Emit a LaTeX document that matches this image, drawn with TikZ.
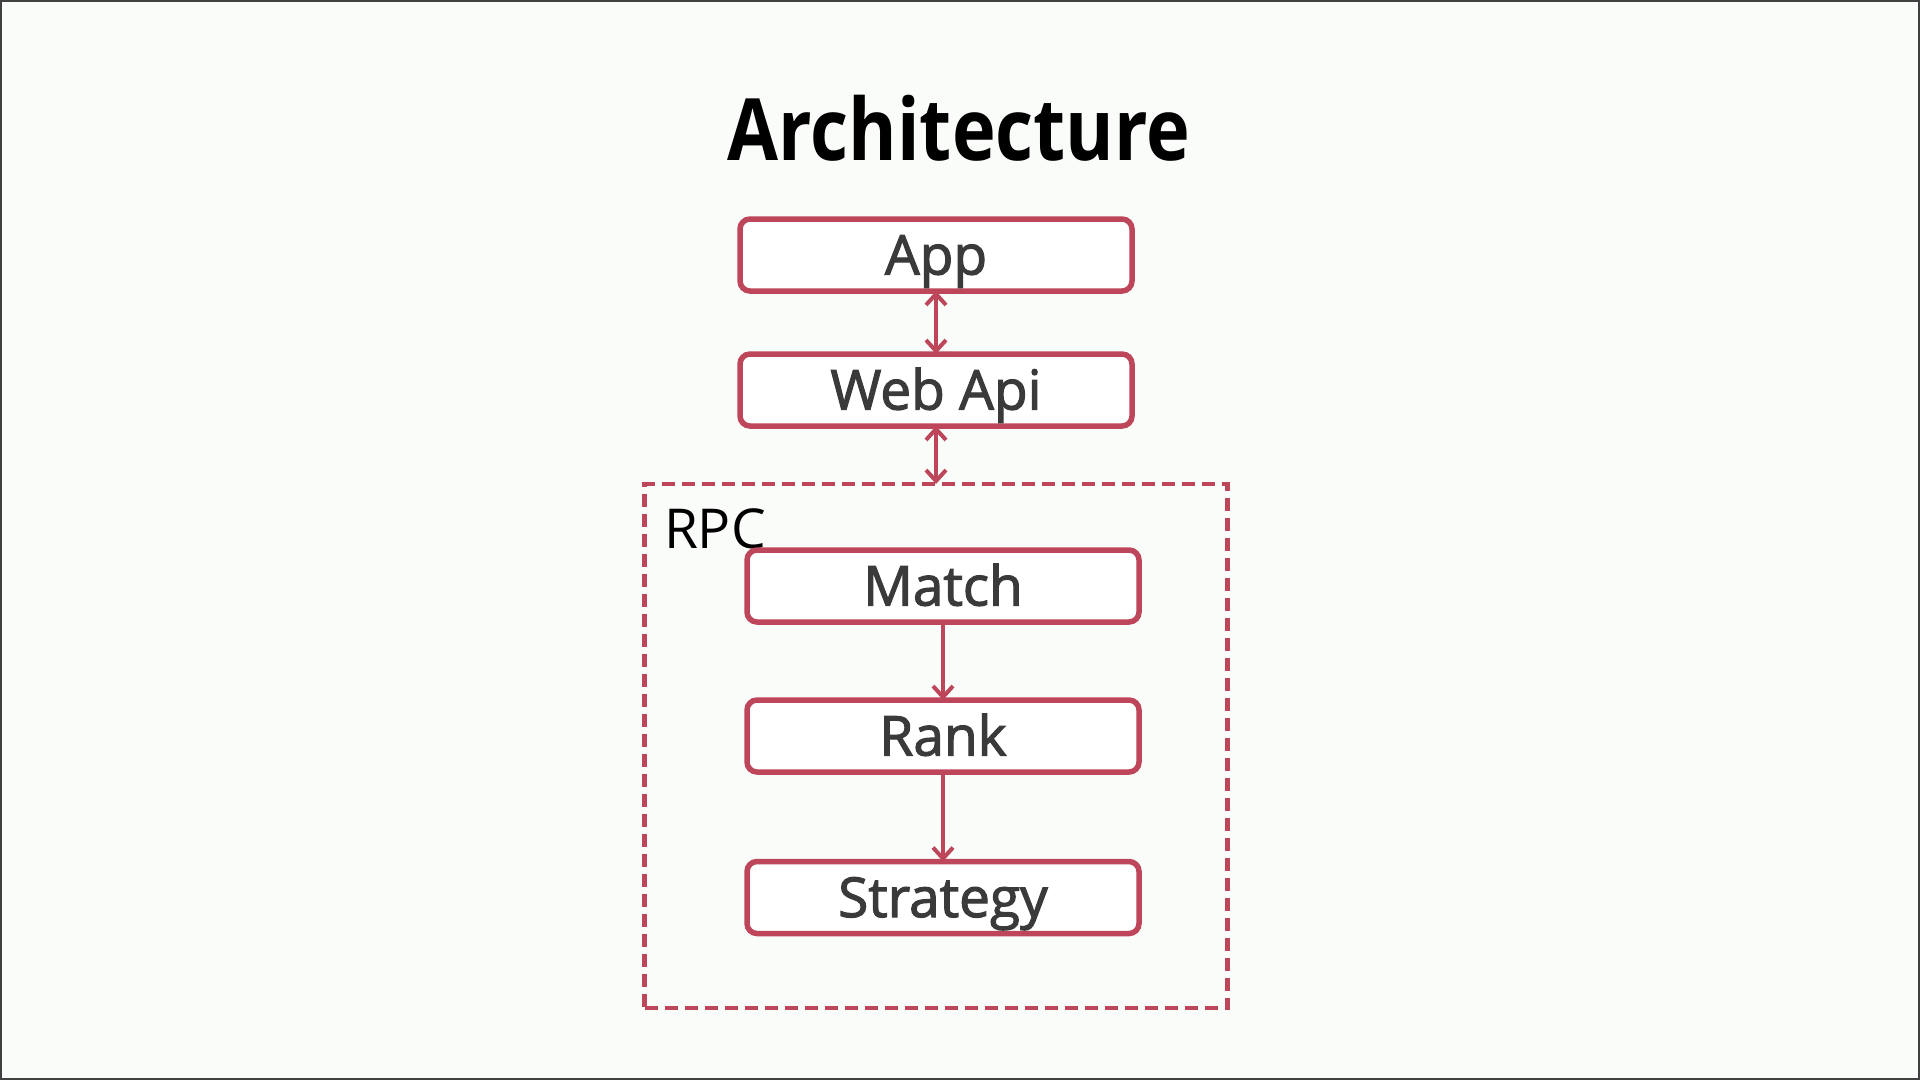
\documentclass[tikz,border=0pt]{standalone}
\usepackage{fontspec}
\usepackage{graphicx}
\setmainfont{Open Sans}
\usetikzlibrary{arrows.meta}
\definecolor{boxred}{RGB}{190,70,90}
\definecolor{bgc}{RGB}{250,252,250}
\definecolor{txt}{RGB}{58,58,58}
\tikzset{
  every node/.style={inner sep=0pt, outer sep=0pt},
  blk/.style={draw=boxred, line width=5.5pt, rounded corners=10pt, fill=white,
    minimum width=392pt, minimum height=72pt, text=txt,
    font=\fontsize{55pt}{60pt}\selectfont\addfontfeature{FakeBold=2}, text height=39pt, text depth=0pt},
  grp/.style={draw=boxred, line width=4.5pt, dash pattern=on 13pt off 7pt,
    minimum width=583pt, minimum height=524pt},
  conn/.style={draw=boxred, line width=4pt,
    -{Straight Barb[length=11pt,width=20pt,line width=4pt]}},
  dconn/.style={draw=boxred, line width=4pt,
    {Straight Barb[length=11pt,width=20pt,line width=4pt]}-{Straight Barb[length=11pt,width=20pt,line width=4pt]}}
}
\begin{document}
\begin{tikzpicture}[x=1pt,y=-1pt]
\useasboundingbox (0,0) rectangle (1920,1080);
\fill[bgc] (0,0) rectangle (1920,1080);
\draw[black!75, line width=2pt] (1,1) rectangle (1919,1079);
\node[anchor=base, font=\bfseries\fontsize{86pt}{90pt}\selectfont] (title) at (959,160) {\scalebox{0.86}[1]{Architecture}};
\node[grp] (rpc) at (936,746) {};
\node[anchor=base west, font=\fontsize{55pt}{60pt}\selectfont] (rpclabel) at (664,548) {RPC};
\node[blk] (app) at (936,255) {App};
\node[blk] (web) at (936,390) {Web Api};
\node[blk] (match) at (943,586) {Match};
\node[blk] (rank) at (943,736) {Rank};
\node[blk] (strat) at (943,897.5) {Strategy};
\draw[dconn] (app.south) -- (web.north);
\draw[dconn] (web.south) -- (rpc.north);
\draw[conn] (match.south) -- (rank.north);
\draw[conn] (rank.south) -- (strat.north);
\end{tikzpicture}
\end{document}
